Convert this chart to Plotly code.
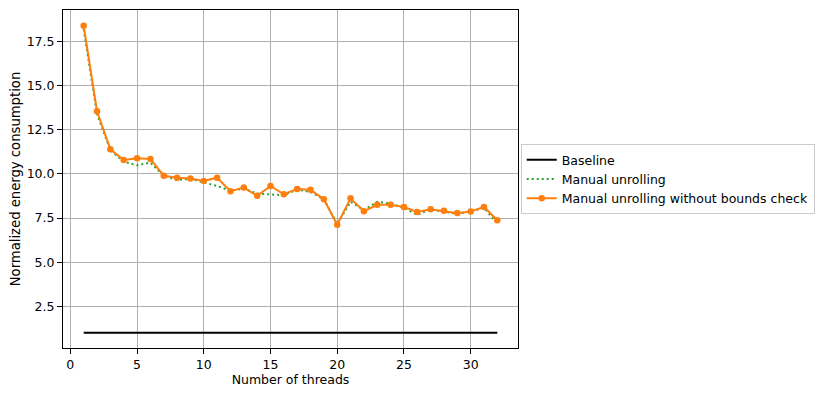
import plotly.graph_objects as go

threads = list(range(1, 33))

baseline = [1.0] * 32

manual_unrolling = [18.2, 13.4, 11.35, 10.70, 10.49, 10.65, 9.90, 9.66, 9.72, 9.51,
                    9.32, 9.05, 9.17, 8.89, 8.85, 8.79, 9.12, 8.98, 8.57, 7.15,
                    8.43, 7.95, 8.42, 8.32, 8.08, 7.68, 8.00, 7.85, 7.75, 7.87,
                    8.08, 7.19]

manual_unrolling_no_bounds = [18.41, 13.56, 11.40, 10.79, 10.89, 10.85, 9.90, 9.79, 9.74, 9.60,
                              9.79, 9.02, 9.23, 8.76, 9.32, 8.85, 9.15, 9.10, 8.57, 7.12,
                              8.62, 7.89, 8.25, 8.25, 8.13, 7.85, 8.00, 7.91, 7.78, 7.87,
                              8.13, 7.38]

fs = 12.5

fig = go.Figure()
fig.add_trace(go.Scatter(x=threads, y=baseline, mode="lines", name="Baseline",
                         line=dict(color="black", width=2)))
fig.add_trace(go.Scatter(x=threads, y=manual_unrolling, mode="lines", name="Manual unrolling",
                         line=dict(color="#2ca02c", width=2, dash="2px,3px")))
fig.add_trace(go.Scatter(x=threads, y=manual_unrolling_no_bounds, mode="lines+markers",
                         name="Manual unrolling without bounds check",
                         line=dict(color="#ff7f0e", width=2),
                         marker=dict(color="#ff7f0e", size=6.5)))

axis_style = dict(showline=True, linecolor="black", linewidth=1, mirror=True,
                  showgrid=True, gridcolor="#b0b0b0", gridwidth=1, automargin=False,
                  ticks="outside", ticklen=5, tickcolor="black", zeroline=False,
                  tickfont=dict(size=fs, color="black"))

fig.update_xaxes(range=[-0.55, 33.55], tickvals=[0, 5, 10, 15, 20, 25, 30],
                 title=dict(text="Number of threads", font=dict(size=fs, color="black"), standoff=4),
                 **axis_style)
fig.update_yaxes(range=[0.13, 19.3], tickvals=[2.5, 5.0, 7.5, 10.0, 12.5, 15.0, 17.5],
                 ticktext=["2.5", "5.0", "7.5", "10.0", "12.5", "15.0", "17.5"],
                 title=dict(text="Normalized energy consumption", font=dict(size=13.2, color="black"), standoff=8),
                 **axis_style)

# the page body keeps an 8px margin, so the figure is 8px smaller than the window
fig.update_layout(
    width=822, height=388,
    margin=dict(l=55, r=312, t=2, b=48),
    plot_bgcolor="white", paper_bgcolor="white",
    font=dict(family="DejaVu Sans", size=fs, color="black"),
    legend=dict(x=1.006, y=0.5, xanchor="left", yanchor="middle",
                bordercolor="#cccccc", borderwidth=1, bgcolor="white",
                font=dict(size=fs), tracegroupgap=0),
)

fig.write_html("out.html")
